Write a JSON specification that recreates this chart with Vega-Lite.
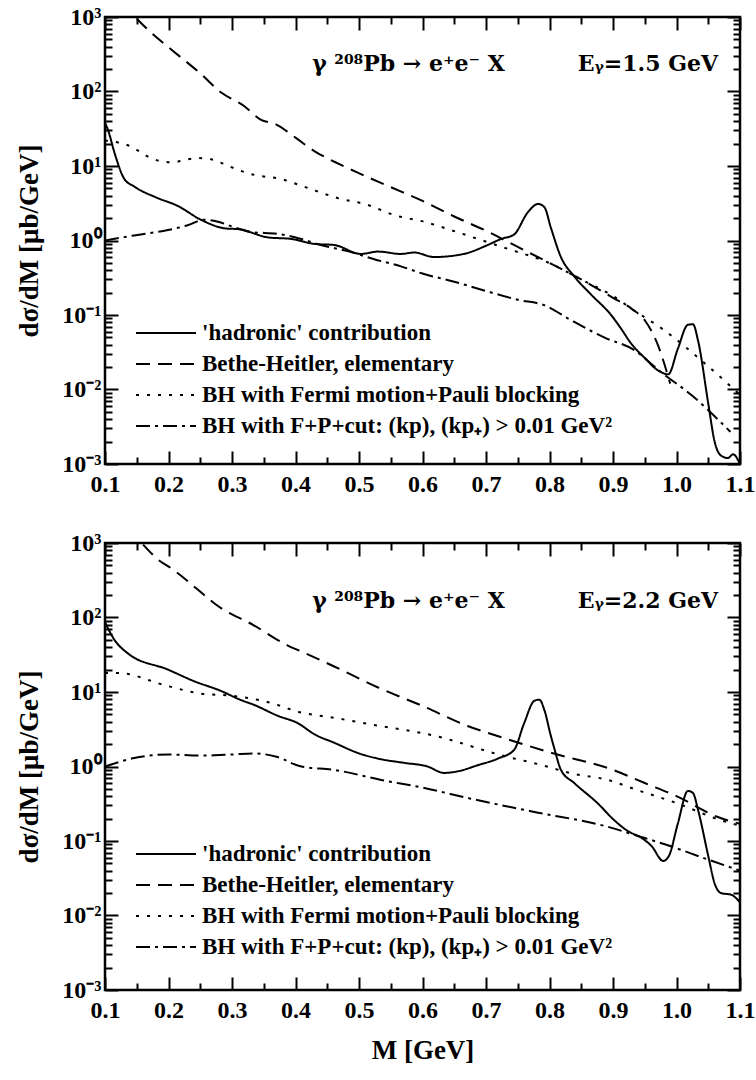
{
  "$schema": "https://vega.github.io/schema/vega-lite/v6.json",
  "padding": {"left": 14, "top": 3, "right": 10, "bottom": 5},
  "spacing": 31,
  "config": {
    "view": {"stroke": "black", "strokeWidth": 2.5},
    "font": "Liberation Serif",
    "axis": {"labelFont": "Liberation Serif", "labelFontWeight": "bold", "labelFontSize": 24, "labelColor": "black", "titleFont": "Liberation Serif", "titleFontWeight": "bold", "titleFontSize": 27, "titleColor": "black", "domain": false, "grid": false, "tickColor": "black", "tickWidth": 2, "labelFlush": false, "labelOverlap": false},
    "legend": {"orient": "none", "title": null, "symbolType": "M-2,0H2", "symbolSize": 900, "symbolStrokeWidth": 2, "symbolStrokeColor": "black", "symbolFillColor": "transparent", "labelFont": "Liberation Serif", "labelFontWeight": "bold", "labelFontSize": 23, "labelColor": "black", "labelLimit": 800, "rowPadding": 3, "labelOffset": 20, "padding": 0},
    "text": {"font": "DejaVu Serif", "fontWeight": "bold", "fontSize": 22, "color": "black"}
  },
  "datasets": {
    "top": [
      {"M": 0.1, "v": 38, "s": "had"}, {"M": 0.105, "v": 30, "s": "had"}, {"M": 0.115, "v": 15, "s": "had"}, {"M": 0.13, "v": 6.8, "s": "had"}, {"M": 0.146, "v": 5.3, "s": "had"}, {"M": 0.18, "v": 3.8, "s": "had"}, {"M": 0.215, "v": 2.9, "s": "had"}, {"M": 0.251, "v": 1.9, "s": "had"}, {"M": 0.29, "v": 1.45, "s": "had"}, {"M": 0.31, "v": 1.42, "s": "had"}, {"M": 0.357, "v": 1.1, "s": "had"}, {"M": 0.393, "v": 1.05, "s": "had"}, {"M": 0.43, "v": 0.9, "s": "had"}, {"M": 0.461, "v": 0.87, "s": "had"}, {"M": 0.503, "v": 0.66, "s": "had"}, {"M": 0.53, "v": 0.71, "s": "had"}, {"M": 0.566, "v": 0.66, "s": "had"}, {"M": 0.587, "v": 0.69, "s": "had"}, {"M": 0.618, "v": 0.6, "s": "had"}, {"M": 0.665, "v": 0.66, "s": "had"}, {"M": 0.7, "v": 0.85, "s": "had"}, {"M": 0.724, "v": 1.05, "s": "had"}, {"M": 0.744, "v": 1.2, "s": "had"}, {"M": 0.766, "v": 2.4, "s": "had"}, {"M": 0.782, "v": 3.1, "s": "had"}, {"M": 0.792, "v": 2.8, "s": "had"}, {"M": 0.802, "v": 1.5, "s": "had"}, {"M": 0.818, "v": 0.6, "s": "had"}, {"M": 0.839, "v": 0.33, "s": "had"}, {"M": 0.865, "v": 0.19, "s": "had"}, {"M": 0.897, "v": 0.1, "s": "had"}, {"M": 0.913, "v": 0.065, "s": "had"}, {"M": 0.928, "v": 0.042, "s": "had"}, {"M": 0.949, "v": 0.027, "s": "had"}, {"M": 0.971, "v": 0.018, "s": "had"}, {"M": 0.987, "v": 0.016, "s": "had"}, {"M": 1.002, "v": 0.035, "s": "had"}, {"M": 1.018, "v": 0.074, "s": "had"}, {"M": 1.026, "v": 0.075, "s": "had"}, {"M": 1.034, "v": 0.045, "s": "had"}, {"M": 1.05, "v": 0.0065, "s": "had"}, {"M": 1.06, "v": 0.002, "s": "had"}, {"M": 1.07, "v": 0.0013, "s": "had"}, {"M": 1.081, "v": 0.0012, "s": "had"}, {"M": 1.089, "v": 0.00135, "s": "had"}, {"M": 1.1, "v": 0.001, "s": "had"},
      {"M": 0.15, "v": 950, "s": "bh"}, {"M": 0.168, "v": 670, "s": "bh"}, {"M": 0.209, "v": 340, "s": "bh"}, {"M": 0.25, "v": 175, "s": "bh"}, {"M": 0.283, "v": 97, "s": "bh"}, {"M": 0.319, "v": 64, "s": "bh"}, {"M": 0.345, "v": 42, "s": "bh"}, {"M": 0.37, "v": 36, "s": "bh"}, {"M": 0.4, "v": 24, "s": "bh"}, {"M": 0.429, "v": 16, "s": "bh"}, {"M": 0.47, "v": 10.5, "s": "bh"}, {"M": 0.503, "v": 7.8, "s": "bh"}, {"M": 0.55, "v": 5.2, "s": "bh"}, {"M": 0.6, "v": 3.4, "s": "bh"}, {"M": 0.65, "v": 2.1, "s": "bh"}, {"M": 0.7, "v": 1.35, "s": "bh"}, {"M": 0.75, "v": 0.82, "s": "bh"}, {"M": 0.8, "v": 0.5, "s": "bh"}, {"M": 0.85, "v": 0.3, "s": "bh"}, {"M": 0.9, "v": 0.17, "s": "bh"}, {"M": 0.93, "v": 0.12, "s": "bh"}, {"M": 0.95, "v": 0.085, "s": "bh"}, {"M": 0.972, "v": 0.037, "s": "bh"}, {"M": 0.99, "v": 0.012, "s": "bh"},
      {"M": 0.1, "v": 22, "s": "fermi"}, {"M": 0.136, "v": 19, "s": "fermi"}, {"M": 0.177, "v": 12.3, "s": "fermi"}, {"M": 0.204, "v": 11.2, "s": "fermi"}, {"M": 0.246, "v": 12.8, "s": "fermi"}, {"M": 0.267, "v": 12.3, "s": "fermi"}, {"M": 0.287, "v": 10.7, "s": "fermi"}, {"M": 0.309, "v": 8.9, "s": "fermi"}, {"M": 0.335, "v": 7.6, "s": "fermi"}, {"M": 0.377, "v": 6.7, "s": "fermi"}, {"M": 0.413, "v": 5.3, "s": "fermi"}, {"M": 0.467, "v": 3.7, "s": "fermi"}, {"M": 0.514, "v": 3.0, "s": "fermi"}, {"M": 0.555, "v": 2.2, "s": "fermi"}, {"M": 0.603, "v": 1.78, "s": "fermi"}, {"M": 0.645, "v": 1.38, "s": "fermi"}, {"M": 0.687, "v": 1.05, "s": "fermi"}, {"M": 0.735, "v": 0.77, "s": "fermi"}, {"M": 0.797, "v": 0.51, "s": "fermi"}, {"M": 0.85, "v": 0.3, "s": "fermi"}, {"M": 0.9, "v": 0.18, "s": "fermi"}, {"M": 0.93, "v": 0.12, "s": "fermi"}, {"M": 0.98, "v": 0.063, "s": "fermi"}, {"M": 1.043, "v": 0.023, "s": "fermi"}, {"M": 1.1, "v": 0.0085, "s": "fermi"},
      {"M": 0.1, "v": 1.0, "s": "cut"}, {"M": 0.146, "v": 1.17, "s": "cut"}, {"M": 0.199, "v": 1.38, "s": "cut"}, {"M": 0.23, "v": 1.6, "s": "cut"}, {"M": 0.256, "v": 1.9, "s": "cut"}, {"M": 0.278, "v": 1.78, "s": "cut"}, {"M": 0.304, "v": 1.5, "s": "cut"}, {"M": 0.33, "v": 1.3, "s": "cut"}, {"M": 0.372, "v": 1.23, "s": "cut"}, {"M": 0.409, "v": 1.05, "s": "cut"}, {"M": 0.44, "v": 0.87, "s": "cut"}, {"M": 0.482, "v": 0.72, "s": "cut"}, {"M": 0.524, "v": 0.56, "s": "cut"}, {"M": 0.566, "v": 0.45, "s": "cut"}, {"M": 0.6, "v": 0.36, "s": "cut"}, {"M": 0.65, "v": 0.28, "s": "cut"}, {"M": 0.7, "v": 0.21, "s": "cut"}, {"M": 0.75, "v": 0.16, "s": "cut"}, {"M": 0.792, "v": 0.135, "s": "cut"}, {"M": 0.834, "v": 0.085, "s": "cut"}, {"M": 0.886, "v": 0.05, "s": "cut"}, {"M": 0.933, "v": 0.034, "s": "cut"}, {"M": 0.976, "v": 0.017, "s": "cut"}, {"M": 1.023, "v": 0.0085, "s": "cut"}, {"M": 1.085, "v": 0.0027, "s": "cut"}
    ],
    "bot": [
      {"M": 0.1, "v": 86, "s": "had"}, {"M": 0.115, "v": 50, "s": "had"}, {"M": 0.136, "v": 33, "s": "had"}, {"M": 0.199, "v": 20, "s": "had"}, {"M": 0.24, "v": 14, "s": "had"}, {"M": 0.283, "v": 10.3, "s": "had"}, {"M": 0.314, "v": 7.8, "s": "had"}, {"M": 0.335, "v": 6.7, "s": "had"}, {"M": 0.372, "v": 4.8, "s": "had"}, {"M": 0.404, "v": 3.8, "s": "had"}, {"M": 0.43, "v": 2.7, "s": "had"}, {"M": 0.46, "v": 2.1, "s": "had"}, {"M": 0.5, "v": 1.5, "s": "had"}, {"M": 0.535, "v": 1.25, "s": "had"}, {"M": 0.571, "v": 1.12, "s": "had"}, {"M": 0.608, "v": 1.0, "s": "had"}, {"M": 0.634, "v": 0.82, "s": "had"}, {"M": 0.655, "v": 0.86, "s": "had"}, {"M": 0.687, "v": 1.04, "s": "had"}, {"M": 0.719, "v": 1.28, "s": "had"}, {"M": 0.744, "v": 1.66, "s": "had"}, {"M": 0.76, "v": 3.8, "s": "had"}, {"M": 0.776, "v": 7.6, "s": "had"}, {"M": 0.784, "v": 7.9, "s": "had"}, {"M": 0.792, "v": 5.7, "s": "had"}, {"M": 0.802, "v": 2.6, "s": "had"}, {"M": 0.808, "v": 1.7, "s": "had"}, {"M": 0.818, "v": 0.9, "s": "had"}, {"M": 0.839, "v": 0.6, "s": "had"}, {"M": 0.876, "v": 0.32, "s": "had"}, {"M": 0.902, "v": 0.19, "s": "had"}, {"M": 0.924, "v": 0.135, "s": "had"}, {"M": 0.945, "v": 0.11, "s": "had"}, {"M": 0.961, "v": 0.085, "s": "had"}, {"M": 0.979, "v": 0.054, "s": "had"}, {"M": 0.988, "v": 0.063, "s": "had"}, {"M": 1.002, "v": 0.17, "s": "had"}, {"M": 1.018, "v": 0.47, "s": "had"}, {"M": 1.026, "v": 0.44, "s": "had"}, {"M": 1.034, "v": 0.26, "s": "had"}, {"M": 1.05, "v": 0.063, "s": "had"}, {"M": 1.06, "v": 0.027, "s": "had"}, {"M": 1.07, "v": 0.02, "s": "had"}, {"M": 1.086, "v": 0.019, "s": "had"}, {"M": 1.1, "v": 0.015, "s": "had"},
      {"M": 0.16, "v": 950, "s": "bh"}, {"M": 0.188, "v": 560, "s": "bh"}, {"M": 0.199, "v": 490, "s": "bh"}, {"M": 0.262, "v": 182, "s": "bh"}, {"M": 0.272, "v": 155, "s": "bh"}, {"M": 0.335, "v": 78, "s": "bh"}, {"M": 0.388, "v": 42, "s": "bh"}, {"M": 0.409, "v": 35, "s": "bh"}, {"M": 0.461, "v": 22, "s": "bh"}, {"M": 0.53, "v": 11.5, "s": "bh"}, {"M": 0.6, "v": 6.5, "s": "bh"}, {"M": 0.671, "v": 3.5, "s": "bh"}, {"M": 0.729, "v": 2.4, "s": "bh"}, {"M": 0.8, "v": 1.55, "s": "bh"}, {"M": 0.9, "v": 0.9, "s": "bh"}, {"M": 0.95, "v": 0.6, "s": "bh"}, {"M": 1.0, "v": 0.4, "s": "bh"}, {"M": 1.065, "v": 0.21, "s": "bh"}, {"M": 1.1, "v": 0.17, "s": "bh"},
      {"M": 0.1, "v": 18, "s": "fermi"}, {"M": 0.12, "v": 18, "s": "fermi"}, {"M": 0.199, "v": 12, "s": "fermi"}, {"M": 0.251, "v": 9.5, "s": "fermi"}, {"M": 0.3, "v": 8.9, "s": "fermi"}, {"M": 0.357, "v": 7.3, "s": "fermi"}, {"M": 0.409, "v": 5.3, "s": "fermi"}, {"M": 0.461, "v": 4.5, "s": "fermi"}, {"M": 0.524, "v": 3.6, "s": "fermi"}, {"M": 0.618, "v": 2.6, "s": "fermi"}, {"M": 0.729, "v": 1.38, "s": "fermi"}, {"M": 0.787, "v": 1.05, "s": "fermi"}, {"M": 0.834, "v": 0.81, "s": "fermi"}, {"M": 0.892, "v": 0.66, "s": "fermi"}, {"M": 0.939, "v": 0.48, "s": "fermi"}, {"M": 0.997, "v": 0.33, "s": "fermi"}, {"M": 1.07, "v": 0.19, "s": "fermi"}, {"M": 1.1, "v": 0.16, "s": "fermi"},
      {"M": 0.1, "v": 1.0, "s": "cut"}, {"M": 0.146, "v": 1.3, "s": "cut"}, {"M": 0.2, "v": 1.45, "s": "cut"}, {"M": 0.25, "v": 1.4, "s": "cut"}, {"M": 0.3, "v": 1.45, "s": "cut"}, {"M": 0.335, "v": 1.5, "s": "cut"}, {"M": 0.37, "v": 1.35, "s": "cut"}, {"M": 0.409, "v": 1.0, "s": "cut"}, {"M": 0.461, "v": 0.9, "s": "cut"}, {"M": 0.535, "v": 0.66, "s": "cut"}, {"M": 0.6, "v": 0.52, "s": "cut"}, {"M": 0.676, "v": 0.37, "s": "cut"}, {"M": 0.782, "v": 0.24, "s": "cut"}, {"M": 0.886, "v": 0.16, "s": "cut"}, {"M": 0.939, "v": 0.117, "s": "cut"}, {"M": 0.991, "v": 0.085, "s": "cut"}, {"M": 1.043, "v": 0.059, "s": "cut"}, {"M": 1.1, "v": 0.04, "s": "cut"}
    ],
    "annTop": [
      {"M": 0.578, "v": 234, "t": "γ ²⁰⁸Pb → e⁺e⁻ X"},
      {"M": 0.955, "v": 234, "t": "Eᵧ=1.5 GeV"}
    ],
    "annBot": [
      {"M": 0.578, "v": 166, "t": "γ ²⁰⁸Pb → e⁺e⁻ X"},
      {"M": 0.955, "v": 166, "t": "Eᵧ=2.2 GeV"}
    ]
  },
  "resolve": {"scale": {"strokeDash": "independent"}, "legend": {"strokeDash": "independent"}},
  "vconcat": [
    {
      "width": 635, "height": 447,
      "resolve": {"axis": {"x": "independent", "y": "independent"}},
      "layer": [
        {
          "data": {"name": "top"},
          "mark": {"type": "line", "clip": true, "strokeWidth": 2, "color": "black", "interpolate": "monotone"},
          "encoding": {
            "x": {"field": "M", "type": "quantitative", "scale": {"domain": [0.1, 1.1], "nice": false, "zero": false},
                  "axis": {"orient": "bottom", "title": null, "values": [0.1, 0.2, 0.3, 0.4, 0.5, 0.6, 0.7, 0.8, 0.9, 1.0, 1.1], "format": ".1f", "tickSize": -13, "labelPadding": 21}},
            "y": {"field": "v", "type": "quantitative", "scale": {"type": "log", "domain": [0.001, 1000], "nice": false},
                  "axis": {"orient": "left", "title": "dσ/dM [μb/GeV]", "titlePadding": 18, "values": [0.001, 0.01, 0.1, 1, 10, 100, 1000], "tickSize": -13, "labelPadding": 17,
                           "labelExpr": "datum.value >= 999 ? '10³' : datum.value >= 99 ? '10²' : datum.value >= 9 ? '10¹' : datum.value >= 0.9 ? '10⁰' : datum.value >= 0.09 ? '10⁻¹' : datum.value >= 0.009 ? '10⁻²' : '10⁻³'"}},
            "strokeDash": {"field": "s", "type": "nominal",
                           "scale": {"domain": ["had", "bh", "fermi", "cut"], "range": [[1, 0], [14, 8], [3, 8], [14, 5, 3, 5]]},
                           "legend": {"legendX": 45, "legendY": 300,
                                      "labelExpr": "datum.label == 'had' ? \"'hadronic' contribution\" : datum.label == 'bh' ? 'Bethe-Heitler, elementary' : datum.label == 'fermi' ? 'BH with Fermi motion+Pauli blocking' : 'BH with F+P+cut: (kp), (kp₊) > 0.01 GeV²'"}}
          }
        },
        {
          "data": {"name": "annTop"},
          "mark": {"type": "text", "align": "center", "baseline": "middle"},
          "encoding": {
            "x": {"field": "M", "type": "quantitative", "axis": {"orient": "bottom", "title": null, "labels": false, "values": [0.15, 0.25, 0.35, 0.45, 0.55, 0.65, 0.75, 0.85, 0.95, 1.05], "tickSize": -7}},
            "y": {"field": "v", "type": "quantitative", "axis": {"orient": "left", "title": null, "labels": false, "tickSize": -7,
                  "values": [0.002,0.003,0.004,0.005,0.006,0.007,0.008,0.009,0.02,0.03,0.04,0.05,0.06,0.07,0.08,0.09,0.2,0.3,0.4,0.5,0.6,0.7,0.8,0.9,2,3,4,5,6,7,8,9,20,30,40,50,60,70,80,90,200,300,400,500,600,700,800,900]}},
            "text": {"field": "t", "type": "nominal"}
          }
        },
        {
          "data": {"name": "annTop"},
          "mark": {"type": "point", "opacity": 0},
          "encoding": {
            "x": {"field": "M", "type": "quantitative", "axis": {"orient": "top", "title": null, "labels": false, "values": [0.1, 0.2, 0.3, 0.4, 0.5, 0.6, 0.7, 0.8, 0.9, 1.0, 1.1], "tickSize": -13}},
            "y": {"field": "v", "type": "quantitative", "axis": {"orient": "right", "title": null, "labels": false, "values": [0.001, 0.01, 0.1, 1, 10, 100, 1000], "tickSize": -13}}
          }
        },
        {
          "data": {"name": "annTop"},
          "mark": {"type": "point", "opacity": 0},
          "encoding": {
            "x": {"field": "M", "type": "quantitative", "axis": {"orient": "top", "title": null, "labels": false, "values": [0.15, 0.25, 0.35, 0.45, 0.55, 0.65, 0.75, 0.85, 0.95, 1.05], "tickSize": -7}},
            "y": {"field": "v", "type": "quantitative", "axis": {"orient": "right", "title": null, "labels": false, "tickSize": -7,
                  "values": [0.002,0.003,0.004,0.005,0.006,0.007,0.008,0.009,0.02,0.03,0.04,0.05,0.06,0.07,0.08,0.09,0.2,0.3,0.4,0.5,0.6,0.7,0.8,0.9,2,3,4,5,6,7,8,9,20,30,40,50,60,70,80,90,200,300,400,500,600,700,800,900]}}
          }
        }
      ]
    },
    {
      "width": 635, "height": 447,
      "resolve": {"axis": {"x": "independent", "y": "independent"}},
      "layer": [
        {
          "data": {"name": "bot"},
          "mark": {"type": "line", "clip": true, "strokeWidth": 2, "color": "black", "interpolate": "monotone"},
          "encoding": {
            "x": {"field": "M", "type": "quantitative", "scale": {"domain": [0.1, 1.1], "nice": false, "zero": false},
                  "axis": {"orient": "bottom", "title": "M [GeV]", "titlePadding": 15, "values": [0.1, 0.2, 0.3, 0.4, 0.5, 0.6, 0.7, 0.8, 0.9, 1.0, 1.1], "format": ".1f", "tickSize": -13, "labelPadding": 21}},
            "y": {"field": "v", "type": "quantitative", "scale": {"type": "log", "domain": [0.001, 1000], "nice": false},
                  "axis": {"orient": "left", "title": "dσ/dM [μb/GeV]", "titlePadding": 18, "values": [0.001, 0.01, 0.1, 1, 10, 100, 1000], "tickSize": -13, "labelPadding": 17,
                           "labelExpr": "datum.value >= 999 ? '10³' : datum.value >= 99 ? '10²' : datum.value >= 9 ? '10¹' : datum.value >= 0.9 ? '10⁰' : datum.value >= 0.09 ? '10⁻¹' : datum.value >= 0.009 ? '10⁻²' : '10⁻³'"}},
            "strokeDash": {"field": "s", "type": "nominal",
                           "scale": {"domain": ["had", "bh", "fermi", "cut"], "range": [[1, 0], [14, 8], [3, 8], [14, 5, 3, 5]]},
                           "legend": {"legendX": 45, "legendY": 295,
                                      "labelExpr": "datum.label == 'had' ? \"'hadronic' contribution\" : datum.label == 'bh' ? 'Bethe-Heitler, elementary' : datum.label == 'fermi' ? 'BH with Fermi motion+Pauli blocking' : 'BH with F+P+cut: (kp), (kp₊) > 0.01 GeV²'"}}
          }
        },
        {
          "data": {"name": "annBot"},
          "mark": {"type": "text", "align": "center", "baseline": "middle"},
          "encoding": {
            "x": {"field": "M", "type": "quantitative", "axis": {"orient": "bottom", "title": null, "labels": false, "values": [0.15, 0.25, 0.35, 0.45, 0.55, 0.65, 0.75, 0.85, 0.95, 1.05], "tickSize": -7}},
            "y": {"field": "v", "type": "quantitative", "axis": {"orient": "left", "title": null, "labels": false, "tickSize": -7,
                  "values": [0.002,0.003,0.004,0.005,0.006,0.007,0.008,0.009,0.02,0.03,0.04,0.05,0.06,0.07,0.08,0.09,0.2,0.3,0.4,0.5,0.6,0.7,0.8,0.9,2,3,4,5,6,7,8,9,20,30,40,50,60,70,80,90,200,300,400,500,600,700,800,900]}},
            "text": {"field": "t", "type": "nominal"}
          }
        },
        {
          "data": {"name": "annBot"},
          "mark": {"type": "point", "opacity": 0},
          "encoding": {
            "x": {"field": "M", "type": "quantitative", "axis": {"orient": "top", "title": null, "labels": false, "values": [0.1, 0.2, 0.3, 0.4, 0.5, 0.6, 0.7, 0.8, 0.9, 1.0, 1.1], "tickSize": -13}},
            "y": {"field": "v", "type": "quantitative", "axis": {"orient": "right", "title": null, "labels": false, "values": [0.001, 0.01, 0.1, 1, 10, 100, 1000], "tickSize": -13}}
          }
        },
        {
          "data": {"name": "annBot"},
          "mark": {"type": "point", "opacity": 0},
          "encoding": {
            "x": {"field": "M", "type": "quantitative", "axis": {"orient": "top", "title": null, "labels": false, "values": [0.15, 0.25, 0.35, 0.45, 0.55, 0.65, 0.75, 0.85, 0.95, 1.05], "tickSize": -7}},
            "y": {"field": "v", "type": "quantitative", "axis": {"orient": "right", "title": null, "labels": false, "tickSize": -7,
                  "values": [0.002,0.003,0.004,0.005,0.006,0.007,0.008,0.009,0.02,0.03,0.04,0.05,0.06,0.07,0.08,0.09,0.2,0.3,0.4,0.5,0.6,0.7,0.8,0.9,2,3,4,5,6,7,8,9,20,30,40,50,60,70,80,90,200,300,400,500,600,700,800,900]}}
          }
        }
      ]
    }
  ]
}
